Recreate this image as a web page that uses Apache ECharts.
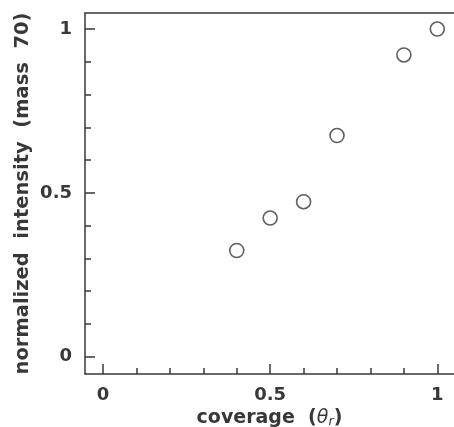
<!DOCTYPE html>
<html>
<head>
<meta charset="utf-8">
<script src="https://cdn.jsdelivr.net/npm/echarts@6/dist/echarts.min.js"></script>
<style>
  html, body { margin: 0; padding: 0; background: #fff; }
  #chart { width: 454px; height: 427px; }
</style>
</head>
<body>
<div id="chart"></div>
<script>
// coverage vs normalized intensity (mass 70)
const coverage = [0.4, 0.5, 0.6, 0.7, 0.9, 1.0];
const intensity = [0.324, 0.423, 0.473, 0.675, 0.921, 1.0];

const xLabels = [0, 0.5, 1];
const xMinorTicks = [0, 0.1, 0.2, 0.3, 0.4, 0.5, 0.6, 0.7, 0.8, 0.9, 1];
const yLabels = [0, 0.5, 1];
const yMinorTicks = [0, 0.1, 0.2, 0.3, 0.4, 0.5, 0.6, 0.7, 0.8, 0.9, 1];

const ink = '#383838';
const font = 'DejaVu Sans, sans-serif';

const chart = echarts.init(document.getElementById('chart'), null, { renderer: 'canvas' });

const xRange = { min: -0.054, max: 1.05 };
const yRange = { min: -0.053, max: 1.049 };

function lineStyle() {
  return { color: ink, width: 1.5 };
}

const option = {
  animation: false,
  grid: { left: 85, right: 0, top: 13, bottom: 53, containLabel: false, outerBoundsMode: 'none' },
  xAxis: [
    {
      type: 'value', ...xRange, position: 'bottom',
      axisLine: { show: true, onZero: false, lineStyle: lineStyle() },
      axisTick: { show: true, inside: true, length: 6, customValues: xMinorTicks, lineStyle: lineStyle() },
      axisLabel: {
        customValues: xLabels, margin: 12, color: ink, fontSize: 18, fontWeight: 'bold', fontFamily: font,
        formatter: v => String(v)
      },
      splitLine: { show: false },
      name: '{a|coverage  (}{t|θ}{s|r}{a|)}',
      nameLocation: 'middle',
      nameGap: 34,
      nameMoveOverlap: false,
      nameTextStyle: {
        rich: {
          a: { fontSize: 19, fontWeight: 'bold', fontFamily: font, color: ink },
          t: { fontSize: 19, fontStyle: 'italic', fontFamily: font, color: ink },
          s: { fontSize: 13, fontStyle: 'italic', fontFamily: font, color: ink, verticalAlign: 'bottom', padding: [7, 0, 0, 0] }
        }
      }
    },
    {
      type: 'value', ...xRange, position: 'bottom',
      axisLine: { show: false, onZero: false },
      axisTick: { show: true, inside: true, length: 10, customValues: xLabels, lineStyle: lineStyle() },
      axisLabel: { show: false },
      splitLine: { show: false }
    },
    {
      type: 'value', ...xRange, position: 'top',
      axisLine: { show: true, onZero: false, lineStyle: lineStyle() },
      axisTick: { show: false },
      axisLabel: { show: false },
      splitLine: { show: false }
    }
  ],
  yAxis: [
    {
      type: 'value', ...yRange, position: 'left',
      axisLine: { show: true, onZero: false, lineStyle: lineStyle() },
      axisTick: { show: true, inside: true, length: 6, customValues: yMinorTicks, lineStyle: lineStyle() },
      axisLabel: {
        customValues: yLabels, margin: 13, color: ink, fontSize: 18, fontWeight: 'bold', fontFamily: font,
        formatter: v => String(v)
      },
      splitLine: { show: false },
      name: 'normalized  intensity  (mass  70)',
      nameLocation: 'middle',
      nameGap: 52,
      nameMoveOverlap: false,
      nameTextStyle: { fontSize: 19.5, fontWeight: 'bold', fontFamily: font, color: ink }
    },
    {
      type: 'value', ...yRange, position: 'left',
      axisLine: { show: false, onZero: false },
      axisTick: { show: true, inside: true, length: 10, customValues: yLabels, lineStyle: lineStyle() },
      axisLabel: { show: false },
      splitLine: { show: false }
    }
  ],
  series: [
    {
      type: 'scatter',
      xAxisIndex: 0,
      yAxisIndex: 0,
      data: coverage.map((c, i) => [c, intensity[i]]),
      symbol: 'circle',
      symbolSize: 14,
      itemStyle: { color: '#fff', borderColor: ink, borderWidth: 1.6 }
    }
  ]
};

chart.setOption(option);
</script>
</body>
</html>
